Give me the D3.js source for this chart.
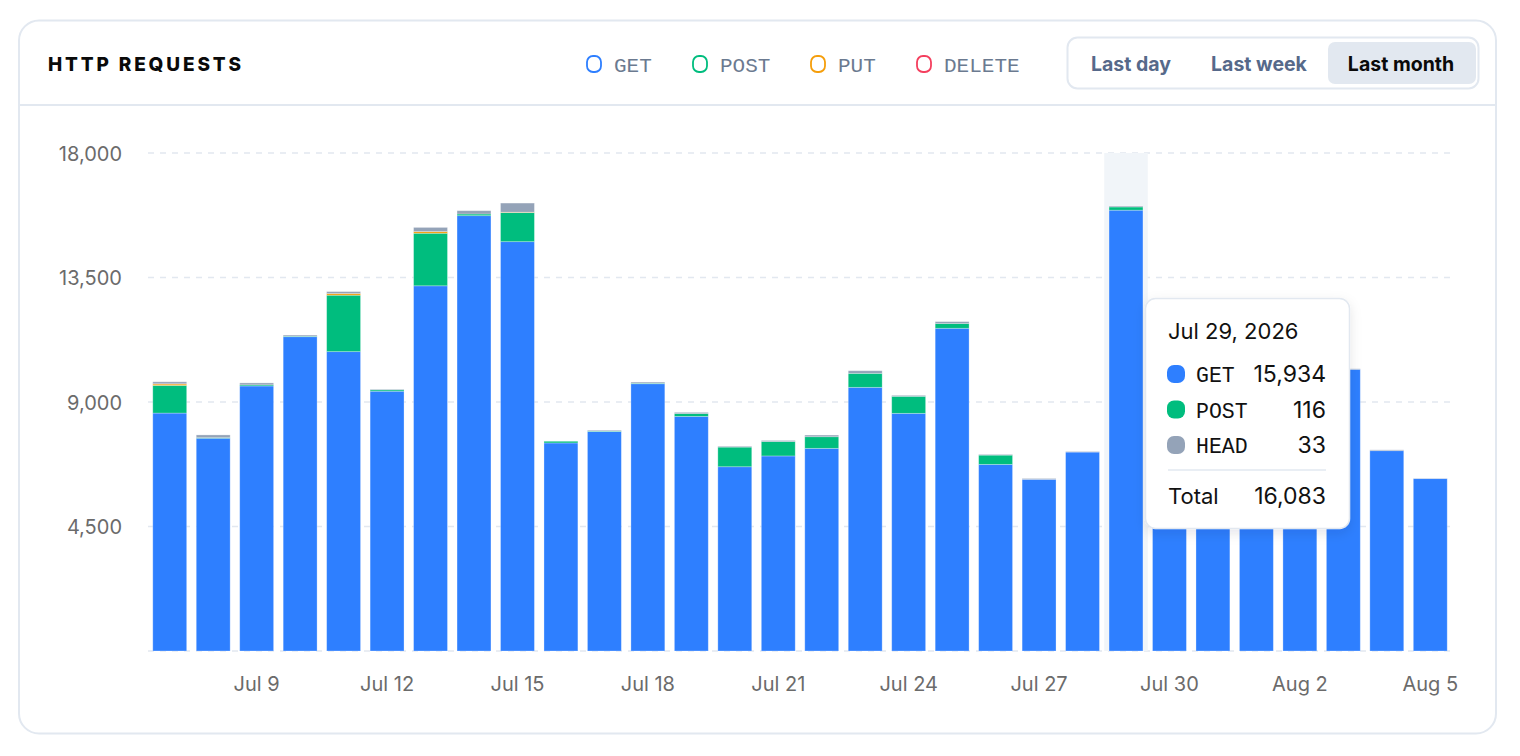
<!DOCTYPE html>
<html>
<head>
<meta charset="utf-8">
<script src="https://cdn.jsdelivr.net/npm/d3@7"></script>
<style>
  html, body { margin: 0; padding: 0; background: #ffffff; }
  svg { display: block; }
</style>
</head>
<body>
<svg id="chart" width="1520" height="756"></svg>
<script>
// ---------- data ----------
const days = [
  "2026-07-07","2026-07-08","2026-07-09","2026-07-10","2026-07-11","2026-07-12",
  "2026-07-13","2026-07-14","2026-07-15","2026-07-16","2026-07-17","2026-07-18",
  "2026-07-19","2026-07-20","2026-07-21","2026-07-22","2026-07-23","2026-07-24",
  "2026-07-25","2026-07-26","2026-07-27","2026-07-28","2026-07-29","2026-07-30",
  "2026-07-31","2026-08-01","2026-08-02","2026-08-03","2026-08-04","2026-08-05"
];
const seriesNames = ["GET", "POST", "PUT", "DELETE", "HEAD"];
const legendNames = ["GET", "POST", "PUT", "DELETE"];
const GET    = [8600, 7690, 9580, 11360, 10820, 9390, 13200, 15735, 14795, 7520, 7930, 9660, 8480, 6660, 7050, 7325, 9530, 8590, 11665, 6745, 6205, 7190, 15934, 9800, 8600, 7900, 9200, 10180, 7240, 6230];
const POST   = [1000, 20, 40, 20, 2040, 50, 1900, 60, 1050, 60, 20, 20, 100, 710, 520, 420, 505, 615, 170, 335, 0, 0, 116, 0, 0, 0, 0, 0, 0, 0];
const PUT    = [50, 0, 0, 0, 60, 0, 60, 0, 15, 0, 0, 0, 0, 0, 0, 0, 0, 0, 0, 0, 0, 0, 0, 0, 0, 0, 0, 0, 0, 0];
const DELETE = [10, 0, 0, 0, 0, 0, 0, 0, 0, 0, 0, 0, 0, 0, 0, 0, 0, 0, 0, 0, 0, 0, 0, 0, 0, 0, 0, 0, 0, 0];
const HEAD   = [70, 100, 70, 40, 70, 20, 150, 120, 330, 0, 30, 40, 45, 30, 40, 60, 95, 35, 70, 25, 30, 20, 33, 20, 25, 20, 30, 20, 30, 10];
const yTicks = [4500, 9000, 13500, 18000];
const xTickDays = ["2026-07-09","2026-07-12","2026-07-15","2026-07-18","2026-07-21","2026-07-24","2026-07-27","2026-07-30","2026-08-02","2026-08-05"];
const rangeButtons = ["Last day", "Last week", "Last month"];
const activeButton = "Last month";
const hoverDay = "2026-07-29";
const title = "HTTP REQUESTS";

const colors = { GET: "#2e7fff", POST: "#00bd7e", PUT: "#f59e0b", DELETE: "#f43f5e", HEAD: "#94a3b8" };
const seriesValues = { GET, POST, PUT, DELETE, HEAD };

// ---------- build ----------
const rows = days.map((d, i) => {
  const r = { day: d };
  seriesNames.forEach(s => r[s] = seriesValues[s][i]);
  return r;
});
const stack = d3.stack().keys(seriesNames)(rows);

const svg = d3.select("#chart");
const defs = svg.append("defs");
const f = defs.append("filter").attr("id", "shadow").attr("x", "-20%").attr("y", "-20%").attr("width", "140%").attr("height", "150%");
f.append("feDropShadow").attr("dx", 0).attr("dy", 4).attr("stdDeviation", 6).attr("flood-color", "#0f172a").attr("flood-opacity", 0.10);

// card
svg.append("rect").attr("x", 19).attr("y", 20.5).attr("width", 1477).attr("height", 713).attr("rx", 20)
  .attr("fill", "#fff").attr("stroke", "#e2e8f0").attr("stroke-width", 2);
svg.append("line").attr("x1", 20).attr("x2", 1495).attr("y1", 105).attr("y2", 105)
  .attr("stroke", "#e2e8f0").attr("stroke-width", 2);

// title
svg.append("text").attr("x", 48).attr("y", 71).text(title)
  .attr("font-family", "Inter, 'Noto Sans', sans-serif").attr("font-weight", 800)
  .attr("font-size", 19).attr("letter-spacing", 2.85).attr("fill", "#0a0a0a");

// legend
const legendX = [586, 692, 810, 916];
const lg = svg.append("g");
legendNames.forEach((n, i) => {
  const g = lg.append("g").attr("transform", `translate(${legendX[i]},0)`);
  g.append("rect").attr("x", 1).attr("y", 56).attr("width", 14).attr("height", 16).attr("rx", 6)
    .attr("fill", "none").attr("stroke", colors[n]).attr("stroke-width", 1.8);
  g.append("text").attr("x", 28).attr("y", 71.5).text(n)
    .attr("font-family", "'Liberation Mono', 'DejaVu Sans Mono', monospace")
    .attr("font-size", 21).attr("fill", "#6b7a90");
});

// range buttons
svg.append("rect").attr("x", 1067.5).attr("y", 37.5).attr("width", 411).attr("height", 51).attr("rx", 10)
  .attr("fill", "#fff").attr("stroke", "#e2e8f0").attr("stroke-width", 2);
const btnCenters = [1131, 1259, 1401];
rangeButtons.forEach((b, i) => {
  if (b === activeButton) {
    svg.append("rect").attr("x", 1328).attr("y", 42).attr("width", 148).attr("height", 42).attr("rx", 7)
      .attr("fill", "#e2e8f0");
  }
  svg.append("text").attr("x", btnCenters[i]).attr("y", 71).attr("text-anchor", "middle").text(b)
    .attr("font-family", "Inter, 'Noto Sans', sans-serif").attr("font-weight", 700).attr("font-size", 19.5)
    .attr("fill", b === activeButton ? "#0a0a0a" : "#56698a");
});

// scales
const x = d3.scaleBand().domain(days).range([148, 1452]).paddingInner(0.22).paddingOuter(0.11);
const y = d3.scaleLinear().domain([0, 18000]).range([651, 153]);

// grid
const grid = svg.append("g");
[0].concat(yTicks).forEach(t => {
  grid.append("line").attr("x1", 148).attr("x2", 1452).attr("y1", y(t)).attr("y2", y(t))
    .attr("stroke", "#e2e8f0").attr("stroke-width", 1.5).attr("stroke-dasharray", "6,6");
});

// y axis
const yAxis = svg.append("g").attr("transform", "translate(122,0)")
  .call(d3.axisLeft(y).tickValues(yTicks).tickFormat(d3.format(",")).tickSize(0).tickPadding(0));
yAxis.select(".domain").remove();
yAxis.selectAll("text").attr("font-family", "Inter, 'Noto Sans', sans-serif").attr("font-size", 20)
  .attr("fill", "#6b6b6b").attr("dy", "0.35em");

// x axis
const xAxis = svg.append("g").attr("transform", "translate(0,684)")
  .call(d3.axisBottom(x).tickValues(xTickDays).tickSize(0).tickPadding(0)
    .tickFormat(d => d3.timeFormat("%b %-d")(d3.timeParse("%Y-%m-%d")(d))));
xAxis.select(".domain").remove();
xAxis.selectAll("text").attr("font-family", "Inter, 'Noto Sans', sans-serif").attr("font-size", 20)
  .attr("fill", "#6b6b6b").attr("dy", "0.35em");

// hover band
const step = x.step();
svg.append("rect").attr("x", x(hoverDay) + x.bandwidth() / 2 - step / 2).attr("y", y(18000))
  .attr("width", step).attr("height", y(0) - y(18000)).attr("fill", "#f1f5f9");

// bars
const barG = svg.append("g");
stack.forEach(layer => {
  barG.append("g").attr("fill", colors[layer.key])
    .selectAll("rect").data(layer.filter(d => d[1] - d[0] > 0)).join("rect")
    .attr("x", d => x(d.data.day))
    .attr("width", x.bandwidth())
    .attr("y", d => y(d[1]))
    .attr("height", d => y(d[0]) - y(d[1]))
    .attr("stroke", "#ffffff").attr("stroke-opacity", 0.35).attr("stroke-width", 0.8);
});

// tooltip
const hi = days.indexOf(hoverDay);
const hoverRow = rows[hi];
const tipSeries = seriesNames.filter(s => hoverRow[s] > 0);
const total = d3.sum(seriesNames, s => hoverRow[s]);
const tip = svg.append("g").attr("transform", "translate(1145,298)");
tip.append("rect").attr("x", 0.5).attr("y", 0.5).attr("width", 204).attr("height", 230).attr("rx", 10)
  .attr("fill", "#fff").attr("stroke", "#e2e8f0").attr("stroke-width", 1.5).attr("filter", "url(#shadow)");
tip.append("text").attr("x", 23).attr("y", 41).text(d3.timeFormat("%b %-d, %Y")(d3.timeParse("%Y-%m-%d")(hoverDay)))
  .attr("font-family", "Inter, 'Noto Sans', sans-serif").attr("font-size", 22).attr("fill", "#111");
tipSeries.forEach((s, i) => {
  const cy = 76 + i * 35.5;
  tip.append("rect").attr("x", 22).attr("y", cy - 9).attr("width", 18).attr("height", 18).attr("rx", 7)
    .attr("fill", colors[s]);
  tip.append("text").attr("x", 51).attr("y", cy + 8).text(s)
    .attr("font-family", "'Liberation Mono', 'DejaVu Sans Mono', monospace").attr("font-size", 21.5).attr("fill", "#111");
  tip.append("text").attr("x", 181).attr("y", cy + 8).attr("text-anchor", "end").text(d3.format(",")(hoverRow[s]))
    .attr("font-family", "Inter, 'Noto Sans', sans-serif").attr("font-size", 23).attr("fill", "#111");
});
tip.append("line").attr("x1", 23).attr("x2", 181).attr("y1", 172).attr("y2", 172)
  .attr("stroke", "#e2e8f0").attr("stroke-width", 1.5);
tip.append("text").attr("x", 23).attr("y", 206).text("Total")
  .attr("font-family", "Inter, 'Noto Sans', sans-serif").attr("font-size", 22).attr("fill", "#111");
tip.append("text").attr("x", 181).attr("y", 206).attr("text-anchor", "end").text(d3.format(",")(total))
  .attr("font-family", "Inter, 'Noto Sans', sans-serif").attr("font-size", 23).attr("fill", "#111");
</script>
</body>
</html>
